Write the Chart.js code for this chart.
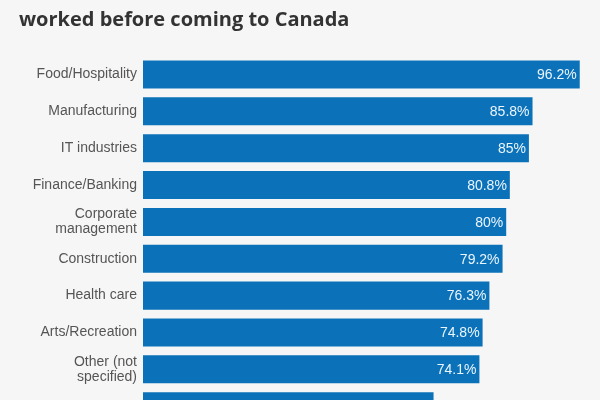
<!DOCTYPE html>
<html>
<head>
<meta charset="utf-8">
<script src="https://cdn.jsdelivr.net/npm/chart.js@4/dist/chart.umd.min.js"></script>
<style>
  html, body { margin: 0; padding: 0; background: #f6f6f6; overflow: hidden; }
  #wrap { position: relative; width: 600px; height: 438px; }
  #title {
    position: absolute; left: 19px; top: 4px; margin: 0;
    font: bold 20px 'Open Sans', sans-serif; line-height: 30px; color: #333;
    white-space: nowrap;
  }
  #chart { position: absolute; left: 0; top: 0; }
</style>
</head>
<body>
<div id="wrap">
  <canvas id="chart" width="600" height="438"></canvas>
  <h1 id="title">worked before coming to Canada</h1>
</div>
<script>
// Chart data (last row is cut off at the bottom of the picture).
const CATEGORIES = [
  'Food/Hospitality', 'Manufacturing', 'IT industries', 'Finance/Banking',
  ['Corporate', 'management'], 'Construction', 'Health care', 'Arts/Recreation',
  ['Other (not', 'specified)'], '',
];
const VALUES = [96.2, 85.8, 85, 80.8, 80, 79.2, 76.3, 74.8, 74.1, 64];
const VALUE_LABELS = ['96.2%', '85.8%', '85%', '80.8%', '80%', '79.2%', '76.3%', '74.8%', '74.1%', ''];

const BAR = '#0b72b9';

// Writes the percentage inside the right end of each bar.
const valueLabels = {
  id: 'valueLabels',
  afterDatasetsDraw(chart) {
    const { ctx } = chart;
    const meta = chart.getDatasetMeta(0);
    ctx.save();
    ctx.font = '14px "Liberation Sans", Arial, sans-serif';
    ctx.fillStyle = '#eaf5fc';
    ctx.textAlign = 'right';
    ctx.textBaseline = 'middle';
    meta.data.forEach((bar, i) => {
      if (!VALUE_LABELS[i]) return;
      ctx.fillText(VALUE_LABELS[i], bar.x - 3, bar.y + 1);
    });
    ctx.restore();
  },
};

new Chart(document.getElementById('chart'), {
  type: 'bar',
  data: {
    labels: CATEGORIES,
    datasets: [{
      data: VALUES,
      backgroundColor: BAR,
      barPercentage: 0.76,
      categoryPercentage: 1,
    }],
  },
  options: {
    indexAxis: 'y',
    responsive: false,
    animation: false,
    layout: { padding: { top: 56, right: 3, bottom: 4, left: 0 } },
    plugins: { legend: { display: false }, tooltip: { enabled: false } },
    scales: {
      x: { display: false, min: 0, max: 100 },
      y: {
        grid: { display: false, drawTicks: false },
        border: { display: false },
        afterFit: (a) => { a.width = 143; },
        ticks: {
          padding: 6,
          color: '#555',
          font: { family: "'Liberation Sans', Arial, sans-serif", size: 14, lineHeight: 1.05 },
        },
      },
    },
  },
  plugins: [valueLabels],
});
</script>
</body>
</html>
